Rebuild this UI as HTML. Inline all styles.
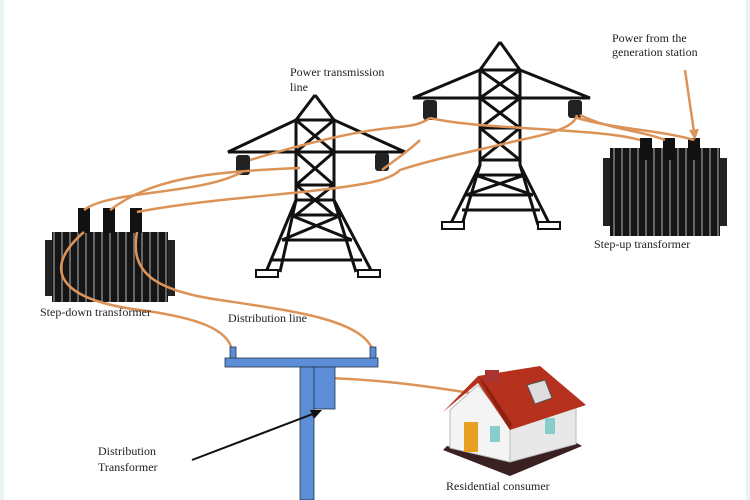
<!DOCTYPE html>
<html><head><style>
html,body{margin:0;padding:0;background:#fff;width:750px;height:500px;overflow:hidden}
text{font-family:"Liberation Serif",serif;font-size:12px;fill:#222}
</style></head><body>
<svg width="750" height="500" viewBox="0 0 750 500" xmlns="http://www.w3.org/2000/svg">
<defs>
<pattern id="st" width="8" height="10" patternUnits="userSpaceOnUse">
<rect width="8" height="10" fill="#151515"/><rect x="5" width="2" height="10" fill="#666"/>
</pattern>
</defs>
<rect x="0" y="0" width="4" height="500" fill="#e8f4f6"/>
<rect x="746" y="0" width="4" height="500" fill="#e8f4f6"/>

<!-- Tower 1 -->
<g stroke="#111" stroke-width="3" fill="none">
<path d="M315,95 L296,120 L296,200 L266,272 M315,95 L334,120 L334,200 L372,272"/>
<path d="M296,120 L228,152 L405,152 L334,120 M296,120 L334,120"/>
<path d="M296,120 L334,152 M334,120 L296,152 M296,152 L334,185 M334,152 L296,185 M296,185 L334,185 M296,152 L334,152"/>
<path d="M296,200 L334,200 M296,185 L334,215 M334,185 L296,215 M290,215 L342,215 M290,215 L352,240 M342,215 L282,240 M282,240 L352,240"/>
<path d="M272,260 L362,260 M280,272 L296,200 M356,272 L334,200"/>
</g>
<rect x="256" y="270" width="22" height="7" fill="#fff" stroke="#111" stroke-width="2"/>
<rect x="358" y="270" width="22" height="7" fill="#fff" stroke="#111" stroke-width="2"/>
<rect x="236" y="155" width="14" height="20" rx="3" fill="#222"/>
<rect x="375" y="153" width="14" height="18" rx="3" fill="#222"/>

<!-- Tower 2 -->
<g stroke="#111" stroke-width="3" fill="none">
<path d="M500,42 L480,70 L480,165 L450,225 M500,42 L520,70 L520,165 L550,225"/>
<path d="M480,70 L413,98 L590,98 L520,70 M480,70 L520,70"/>
<path d="M480,70 L520,98 M520,70 L480,98 M480,98 L520,128 M520,98 L480,128 M480,128 L520,128 M480,128 L520,160 M520,128 L480,160 M480,160 L520,160"/>
<path d="M475,175 L525,175 M475,175 L533,195 M525,175 L466,195 M466,195 L533,195 M462,210 L540,210 M462,225 L480,165 M538,225 L520,165"/>
</g>
<rect x="442" y="222" width="22" height="7" fill="#fff" stroke="#111" stroke-width="2"/>
<rect x="538" y="222" width="22" height="7" fill="#fff" stroke="#111" stroke-width="2"/>
<rect x="423" y="100" width="14" height="20" rx="3" fill="#222"/>
<rect x="568" y="100" width="14" height="18" rx="3" fill="#222"/>

<!-- Step-up transformer -->
<rect x="603" y="158" width="8" height="68" fill="#222"/>
<rect x="719" y="158" width="8" height="68" fill="#222"/>
<rect x="610" y="148" width="110" height="88" fill="url(#st)"/>
<rect x="640" y="138" width="12" height="22" fill="#111"/>
<rect x="663" y="138" width="12" height="22" fill="#111"/>
<rect x="688" y="138" width="12" height="22" fill="#111"/>

<!-- Step-down transformer -->
<rect x="45" y="240" width="8" height="56" fill="#222"/>
<rect x="167" y="240" width="8" height="56" fill="#222"/>
<rect x="52" y="232" width="116" height="70" fill="url(#st)"/>
<rect x="78" y="208" width="12" height="25" fill="#111"/>
<rect x="103" y="208" width="12" height="25" fill="#111"/>
<rect x="130" y="208" width="12" height="25" fill="#111"/>

<!-- Wires -->
<g stroke="#dc9358" stroke-width="2.5" fill="none">
<path d="M84,210 C110,190 200,195 242,172"/>
<path d="M110,210 C150,180 200,172 300,168"/>
<path d="M137,212 C200,200 280,195 320,190 C370,184 390,180 400,170 C430,160 470,152 520,140 C560,132 575,125 577,115"/>
<path d="M382,170 C395,160 410,150 420,140"/>
<path d="M250,160 C300,145 350,132 390,128 C410,126 420,125 430,118"/>
<path d="M430,118 C480,130 600,128 640,140"/>
<path d="M580,115 C610,130 640,130 665,140"/>
<path d="M577,118 C620,130 660,130 694,140"/>
<path d="M84,232 C40,270 60,300 140,310 C200,318 228,330 232,350"/>
<path d="M137,232 C130,270 150,290 220,300 C300,312 360,320 373,350"/>
<path d="M330,378 C380,380 420,385 470,393"/>
<path d="M685,70 L694,132"/>
</g>
<path d="M689,130 L695,140 L699,129 Z" fill="#dc9358"/>

<!-- Distribution pole -->
<rect x="230" y="347" width="6" height="12" fill="#5b8ed6" stroke="#234" stroke-width="0.8"/>
<rect x="370" y="347" width="6" height="12" fill="#5b8ed6" stroke="#234" stroke-width="0.8"/>
<rect x="225" y="358" width="153" height="9" fill="#5b8ed6" stroke="#234" stroke-width="0.8"/>
<rect x="300" y="367" width="14" height="133" fill="#5b8ed6" stroke="#234" stroke-width="0.8"/>
<rect x="314" y="367" width="21" height="42" fill="#5b8ed6" stroke="#234" stroke-width="0.8"/>
<path d="M192,460 L318,412" stroke="#111" stroke-width="2"/>
<path d="M322,410 L310,410 L314,419 Z" fill="#111"/>

<!-- House -->
<polygon points="443,450 510,476 582,446 575,442 510,462 447,446" fill="#3a2020"/>
<polygon points="450,410 478,385 510,425 510,462 450,448" fill="#f4f4f4" stroke="#bbb"/>
<polygon points="510,425 576,405 576,444 510,462" fill="#e8e8e8" stroke="#bbb"/>
<polygon points="443,412 478,376 540,366 586,405 510,430 478,383" fill="#b5311d"/>
<polygon points="478,376 486,385 512,424 510,430" fill="#8a2010"/>
<rect x="485" y="370" width="14" height="12" fill="#a33"/>
<polygon points="527,385 545,380 552,398 535,404" fill="#ddd" stroke="#555"/>
<rect x="464" y="422" width="14" height="30" fill="#e8a020"/>
<rect x="490" y="426" width="10" height="16" fill="#8cc"/>
<rect x="545" y="418" width="10" height="16" fill="#8cc"/>

<!-- Labels -->
<text x="290" y="76">Power transmission</text>
<text x="290" y="91">line</text>
<text x="612" y="42" font-size="11">Power from the</text>
<text x="612" y="56" font-size="11">generation station</text>
<text x="594" y="248" font-size="11">Step-up transformer</text>
<text x="40" y="316" font-size="11.5">Step-down transformer</text>
<text x="228" y="322">Distribution line</text>
<text x="98" y="455">Distribution</text>
<text x="98" y="471">Transformer</text>
<text x="446" y="490">Residential consumer</text>
</svg>
</body></html>
